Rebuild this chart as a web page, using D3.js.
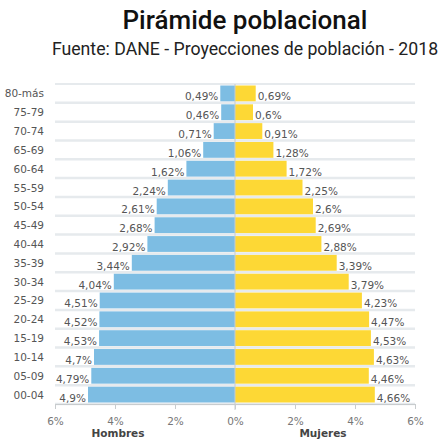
<!DOCTYPE html>
<html>
<head>
<meta charset="utf-8">
<script src="https://cdn.jsdelivr.net/npm/d3@7"></script>
<style>
  body { margin: 0; background: #fff; }
  svg { display: block; }
</style>
</head>
<body>
<script>
// age groups, top to bottom
const grupos = ["80-más", "75-79", "70-74", "65-69", "60-64", "55-59", "50-54", "45-49",
  "40-44", "35-39", "30-34", "25-29", "20-24", "15-19", "10-14", "05-09", "00-04"];
const hombres = [0.49, 0.46, 0.71, 1.06, 1.62, 2.24, 2.61, 2.68, 2.92, 3.44, 4.04, 4.51, 4.52, 4.53, 4.7, 4.79, 4.9];
const mujeres = [0.69, 0.6, 0.91, 1.28, 1.72, 2.25, 2.6, 2.69, 2.88, 3.39, 3.79, 4.23, 4.47, 4.53, 4.63, 4.46, 4.66];
const ticks = [-6, -4, -2, 0, 2, 4, 6];

const width = 441, height = 440;
const fmt = (v) => String(v).replace(".", ",") + "%";

let svg = d3.select("body").append("svg")
    .attr("width", width)
    .attr("height", height);

// titles
svg.append("text")
    .attr("x", 245).attr("y", 29)
    .attr("text-anchor", "middle")
    .attr("font-family", "Roboto, sans-serif")
    .attr("font-size", "26px")
    .attr("font-weight", "500")
    .attr("fill", "#111")
    .text("Pirámide poblacional");

svg.append("text")
    .attr("x", 245).attr("y", 55)
    .attr("text-anchor", "middle")
    .attr("font-family", "Roboto, sans-serif")
    .attr("font-size", "17.7px")
    .attr("fill", "#222")
    .text("Fuente: DANE - Proyecciones de población - 2018");

let xScale = d3.scaleLinear().domain([-6, 6]).range([55, 415]);
let yScale = d3.scaleBand().domain(grupos).range([84, 404]).paddingInner(0.16).paddingOuter(0.08);

// grid lines between rows
let step = yScale.step();
svg.selectAll(".grid")
    .data(grupos)
    .join("line")
    .attr("class", "grid")
    .attr("x1", xScale(-6))
    .attr("x2", xScale(6))
    .attr("y1", (d) => yScale(d) + yScale.bandwidth() + (step - yScale.bandwidth()) / 2)
    .attr("y2", (d) => yScale(d) + yScale.bandwidth() + (step - yScale.bandwidth()) / 2)
    .attr("stroke", "#e6eaed")
    .attr("stroke-width", 2.5);

svg.append("line")
    .attr("x1", xScale(-6)).attr("x2", xScale(6))
    .attr("y1", 84).attr("y2", 84)
    .attr("stroke", "#e6eaed").attr("stroke-width", 2);

// bars
svg.selectAll(".bar-h")
    .data(grupos)
    .join("rect")
    .attr("class", "bar-h")
    .attr("x", (d, i) => xScale(-hombres[i]))
    .attr("y", (d) => yScale(d))
    .attr("width", (d, i) => xScale(0) - xScale(-hombres[i]))
    .attr("height", yScale.bandwidth())
    .attr("fill", "#7dbde3");

svg.selectAll(".bar-m")
    .data(grupos)
    .join("rect")
    .attr("class", "bar-m")
    .attr("x", xScale(0))
    .attr("y", (d) => yScale(d))
    .attr("width", (d, i) => xScale(mujeres[i]) - xScale(0))
    .attr("height", yScale.bandwidth())
    .attr("fill", "#fdd835");

// centre line
svg.append("line")
    .attr("x1", xScale(0)).attr("x2", xScale(0))
    .attr("y1", 84).attr("y2", 410)
    .attr("stroke", "#c8ccce").attr("stroke-width", 1);

// value labels
svg.selectAll(".lab-h")
    .data(grupos)
    .join("text")
    .attr("class", "lab-h")
    .attr("x", (d, i) => xScale(-hombres[i]) - 2)
    .attr("y", (d) => yScale(d) + yScale.bandwidth() / 2 + 7)
    .attr("text-anchor", "end")
    .attr("font-family", "DejaVu Sans, Verdana, sans-serif")
    .attr("font-size", "10.5px")
    .attr("fill", "#555")
    .text((d, i) => fmt(hombres[i]));

svg.selectAll(".lab-m")
    .data(grupos)
    .join("text")
    .attr("class", "lab-m")
    .attr("x", (d, i) => xScale(mujeres[i]) + 2)
    .attr("y", (d) => yScale(d) + yScale.bandwidth() / 2 + 7)
    .attr("font-family", "DejaVu Sans, Verdana, sans-serif")
    .attr("font-size", "10.5px")
    .attr("fill", "#555")
    .text((d, i) => fmt(mujeres[i]));

// category labels
svg.selectAll(".cat")
    .data(grupos)
    .join("text")
    .attr("class", "cat")
    .attr("x", 44)
    .attr("y", (d) => yScale(d) + yScale.bandwidth() / 2 + 4)
    .attr("text-anchor", "end")
    .attr("font-family", "DejaVu Sans, Verdana, sans-serif")
    .attr("font-size", "10.5px")
    .attr("fill", "#555")
    .text((d) => d);

// x axis
let xAxis = d3.axisBottom(xScale)
    .tickValues(ticks)
    .tickSize(5)
    .tickFormat((d) => Math.abs(d) + "%");

let gx = svg.append("g")
    .attr("transform", "translate(0,404)")
    .call(xAxis);
gx.select(".domain").attr("stroke", "#c8ccce");
gx.selectAll(".tick line").attr("stroke", "#c8ccce");
gx.selectAll(".tick text")
    .attr("y", 14)
    .attr("font-family", "DejaVu Sans, Verdana, sans-serif")
    .attr("font-size", "10.5px")
    .attr("fill", "#777");

// axis titles
svg.append("text")
    .attr("x", 118).attr("y", 437)
    .attr("text-anchor", "middle")
    .attr("font-family", "DejaVu Sans, Verdana, sans-serif")
    .attr("font-size", "10.5px")
    .attr("font-weight", "bold")
    .attr("fill", "#444")
    .text("Hombres");

svg.append("text")
    .attr("x", 323).attr("y", 437)
    .attr("text-anchor", "middle")
    .attr("font-family", "DejaVu Sans, Verdana, sans-serif")
    .attr("font-size", "10.5px")
    .attr("font-weight", "bold")
    .attr("fill", "#444")
    .text("Mujeres");
</script>
</body>
</html>
